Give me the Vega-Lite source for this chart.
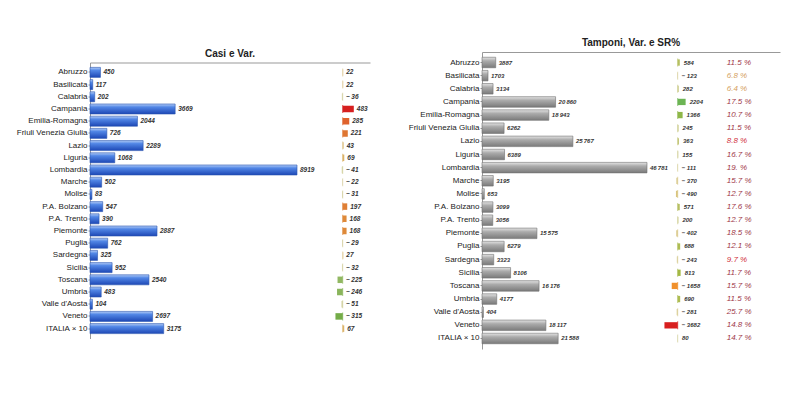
{
  "$schema": "https://vega.github.io/schema/vega-lite/v6.json",
  "background": "white",
  "padding": {"left": 16, "top": 38, "right": 5, "bottom": 5},
  "config": {
    "view": {"stroke": null},
    "font": "Liberation Sans",
    "title": {"fontSize": 10, "fontWeight": "bold", "color": "#222", "offset": 4, "anchor": "middle", "frame": "group"},
    "axis": {"grid": false},
    "axisY": {"title": null, "labelFontSize": 8, "labelColor": "#222", "tickSize": 2, "labelPadding": 1, "domainColor": "#999", "tickColor": "#999"}
  },
  "datasets": {
    "it": [
      {"regione": "Abruzzo", "casi": 450, "varCasi": 22, "tamponi": 3887, "varTamp": 584, "sr": 11.5},
      {"regione": "Basilicata", "casi": 117, "varCasi": 22, "tamponi": 1703, "varTamp": -123, "sr": 6.8},
      {"regione": "Calabria", "casi": 202, "varCasi": -36, "tamponi": 3134, "varTamp": 282, "sr": 6.4},
      {"regione": "Campania", "casi": 3669, "varCasi": 483, "tamponi": 20860, "varTamp": 2204, "sr": 17.5},
      {"regione": "Emilia-Romagna", "casi": 2044, "varCasi": 285, "tamponi": 18943, "varTamp": 1366, "sr": 10.7},
      {"regione": "Friuli Venezia Giulia", "casi": 726, "varCasi": 221, "tamponi": 6262, "varTamp": 245, "sr": 11.5},
      {"regione": "Lazio", "casi": 2289, "varCasi": 43, "tamponi": 25767, "varTamp": 363, "sr": 8.8},
      {"regione": "Liguria", "casi": 1068, "varCasi": 69, "tamponi": 6389, "varTamp": 155, "sr": 16.7},
      {"regione": "Lombardia", "casi": 8919, "varCasi": -41, "tamponi": 46781, "varTamp": -111, "sr": 19.0},
      {"regione": "Marche", "casi": 502, "varCasi": -22, "tamponi": 3195, "varTamp": -370, "sr": 15.7},
      {"regione": "Molise", "casi": 83, "varCasi": -31, "tamponi": 653, "varTamp": -490, "sr": 12.7},
      {"regione": "P.A. Bolzano", "casi": 547, "varCasi": 197, "tamponi": 3099, "varTamp": 571, "sr": 17.6},
      {"regione": "P.A. Trento", "casi": 390, "varCasi": 168, "tamponi": 3056, "varTamp": 200, "sr": 12.7},
      {"regione": "Piemonte", "casi": 2887, "varCasi": 168, "tamponi": 15575, "varTamp": -402, "sr": 18.5},
      {"regione": "Puglia", "casi": 762, "varCasi": -29, "tamponi": 6279, "varTamp": 688, "sr": 12.1},
      {"regione": "Sardegna", "casi": 325, "varCasi": 27, "tamponi": 3323, "varTamp": -243, "sr": 9.7},
      {"regione": "Sicilia", "casi": 952, "varCasi": -32, "tamponi": 8106, "varTamp": 813, "sr": 11.7},
      {"regione": "Toscana", "casi": 2540, "varCasi": -225, "tamponi": 16176, "varTamp": -1658, "sr": 15.7},
      {"regione": "Umbria", "casi": 483, "varCasi": -246, "tamponi": 4177, "varTamp": 690, "sr": 11.5},
      {"regione": "Valle d'Aosta", "casi": 104, "varCasi": -51, "tamponi": 404, "varTamp": -281, "sr": 25.7},
      {"regione": "Veneto", "casi": 2697, "varCasi": -315, "tamponi": 18117, "varTamp": -3682, "sr": 14.8},
      {"regione": "ITALIA × 10", "casi": 3175, "varCasi": 67, "tamponi": 21588, "varTamp": 80, "sr": 14.7}
    ]
  },
  "center": true,
  "spacing": 38,
  "resolve": {"scale": {"color": "independent"}},
  "hconcat": [
    {
      "title": "Casi e Var.",
      "width": 280,
      "height": 276,
      "data": {"name": "it"},
      "encoding": {
        "y": {"field": "regione", "type": "nominal", "sort": null, "scale": {"paddingInner": 0.18, "paddingOuter": 0.4}}
      },
      "layer": [
        {
          "encoding": {
            "x": {"field": "casi", "type": "quantitative", "scale": {"domain": [0, 12064], "nice": false},
                  "axis": {"orient": "top", "labels": false, "ticks": false, "title": null, "domainColor": "#999"}}
          },
          "layer": [
            {"mark": {"type": "bar", "stroke": "#2a56b0", "strokeWidth": 0.6,
              "color": {"gradient": "linear", "x1": 0, "y1": 0, "x2": 0, "y2": 1,
                "stops": [{"offset": 0, "color": "#b4cdf7"}, {"offset": 0.3, "color": "#5287e6"}, {"offset": 1, "color": "#1d47b5"}]}}},
            {"mark": {"type": "text", "align": "left", "dx": 3, "fontSize": 6.5, "fontStyle": "italic", "fontWeight": "bold", "color": "#333"},
             "encoding": {"text": {"field": "casi", "type": "quantitative", "format": "d"}}}
          ]
        },
        {
          "layer": [
            {"mark": {"type": "tick", "orient": "vertical", "thickness": 1, "size": 8},
             "encoding": {
               "x": {"datum": 0, "type": "quantitative", "scale": {"domain": [-10987, 1187], "nice": false}, "axis": null},
               "color": {"field": "varCasi", "type": "quantitative", "legend": null,
                 "scale": {"domain": [-315, -100, 0, 100, 250, 483], "range": ["#74ac48", "#b4c888", "#e2d6b0", "#dca048", "#e06a30", "#d61f1f"]}}
             }},
            {"mark": {"type": "bar", "height": {"band": 0.65}},
             "encoding": {
               "x": {"field": "varCasi", "type": "quantitative", "scale": {"domain": [-10987, 1187], "nice": false}, "axis": null},
               "x2": {"datum": 0},
               "color": {"field": "varCasi", "type": "quantitative", "legend": null}
             }},
            {"transform": [{"filter": "datum.varCasi > 0"}],
             "mark": {"type": "text", "align": "left", "dx": 3, "fontSize": 6.5, "fontStyle": "italic", "fontWeight": "bold", "color": "#333",
               "text": {"expr": "format(datum.varCasi, 'd')"}},
             "encoding": {"x": {"field": "varCasi", "type": "quantitative", "scale": {"domain": [-10987, 1187], "nice": false}, "axis": null}}},
            {"transform": [{"filter": "datum.varCasi <= 0"}],
             "mark": {"type": "text", "align": "left", "dx": 3, "fontSize": 6.5, "fontStyle": "italic", "fontWeight": "bold", "color": "#333",
               "text": {"expr": "'\u2212 ' + format(-datum.varCasi, 'd')"}},
             "encoding": {"x": {"datum": 0, "type": "quantitative", "scale": {"domain": [-10987, 1187], "nice": false}, "axis": null}}}
          ]
        }
      ],
      "resolve": {"scale": {"x": "independent"}, "axis": {"x": "independent"}}
    },
    {
      "title": "Tamponi, Var. e SR%",
      "width": 298,
      "height": 297,
      "data": {"name": "it"},
      "encoding": {
        "y": {"field": "regione", "type": "nominal", "sort": null, "scale": {"paddingInner": 0.2, "paddingOuter": 0.4}}
      },
      "layer": [
        {
          "encoding": {
            "x": {"field": "tamponi", "type": "quantitative", "scale": {"domain": [0, 84490], "nice": false},
                  "axis": {"orient": "top", "labels": false, "ticks": false, "title": null, "domainColor": "#999"}}
          },
          "layer": [
            {"mark": {"type": "bar", "stroke": "#707070", "strokeWidth": 0.6,
              "color": {"gradient": "linear", "x1": 0, "y1": 0, "x2": 0, "y2": 1,
                "stops": [{"offset": 0, "color": "#e4e4e4"}, {"offset": 0.35, "color": "#ababab"}, {"offset": 1, "color": "#7a7a7a"}]}}},
            {"mark": {"type": "text", "align": "left", "dx": 3, "fontSize": 6, "fontStyle": "italic", "fontWeight": "bold", "color": "#333",
               "text": {"expr": "datum.tamponi >= 10000 ? replace(format(datum.tamponi, ','), ',', '\u2009') : format(datum.tamponi, 'd')"}}}
          ]
        },
        {
          "layer": [
            {"mark": {"type": "tick", "orient": "vertical", "thickness": 1, "size": 8},
             "encoding": {
               "x": {"datum": 0, "type": "quantitative", "scale": {"domain": [-54361, 28417], "nice": false}, "axis": null},
               "color": {"field": "varTamp", "type": "quantitative", "legend": null,
                 "scale": {"domain": [-3682, -1658, 0, 800, 2204], "range": ["#d81f1f", "#f0902c", "#d8d4a8", "#a4b844", "#6cb454"]}}
             }},
            {"mark": {"type": "bar", "height": {"band": 0.6}},
             "encoding": {
               "x": {"field": "varTamp", "type": "quantitative", "scale": {"domain": [-54361, 28417], "nice": false}, "axis": null},
               "x2": {"datum": 0},
               "color": {"field": "varTamp", "type": "quantitative", "legend": null}
             }},
            {"transform": [{"filter": "datum.varTamp > 0"}],
             "mark": {"type": "text", "align": "left", "dx": 4, "fontSize": 6, "fontStyle": "italic", "fontWeight": "bold", "color": "#333",
               "text": {"expr": "format(datum.varTamp, 'd')"}},
             "encoding": {"x": {"field": "varTamp", "type": "quantitative", "scale": {"domain": [-54361, 28417], "nice": false}, "axis": null}}},
            {"transform": [{"filter": "datum.varTamp <= 0"}],
             "mark": {"type": "text", "align": "left", "dx": 4, "fontSize": 6, "fontStyle": "italic", "fontWeight": "bold", "color": "#333",
               "text": {"expr": "'\u2212 ' + format(-datum.varTamp, 'd')"}},
             "encoding": {"x": {"datum": 0, "type": "quantitative", "scale": {"domain": [-54361, 28417], "nice": false}, "axis": null}}}
          ]
        },
        {
          "layer": [
            {"mark": {"type": "rule", "color": "#d8b4b4", "strokeWidth": 1},
             "encoding": {"x": {"datum": 0, "type": "quantitative", "scale": {"domain": [-1, 0.238], "nice": false}, "axis": null}}},
            {"mark": {"type": "text", "align": "left", "dx": 4, "fontSize": 8, "fontStyle": "italic",
               "text": {"expr": "replace(format(datum.sr, '.1f'), '.0', '.') + ' %'"}},
             "encoding": {
               "x": {"datum": 0, "type": "quantitative", "scale": {"domain": [-1, 0.238], "nice": false}, "axis": null},
               "color": {"field": "sr", "type": "quantitative", "legend": null,
                 "scale": {"type": "threshold", "domain": [7, 10], "range": ["#d4a060", "#d0303c", "#a03848"]}}
             }}
          ]
        }
      ],
      "resolve": {"scale": {"x": "independent", "color": "independent"}, "axis": {"x": "independent"}}
    }
  ]
}
